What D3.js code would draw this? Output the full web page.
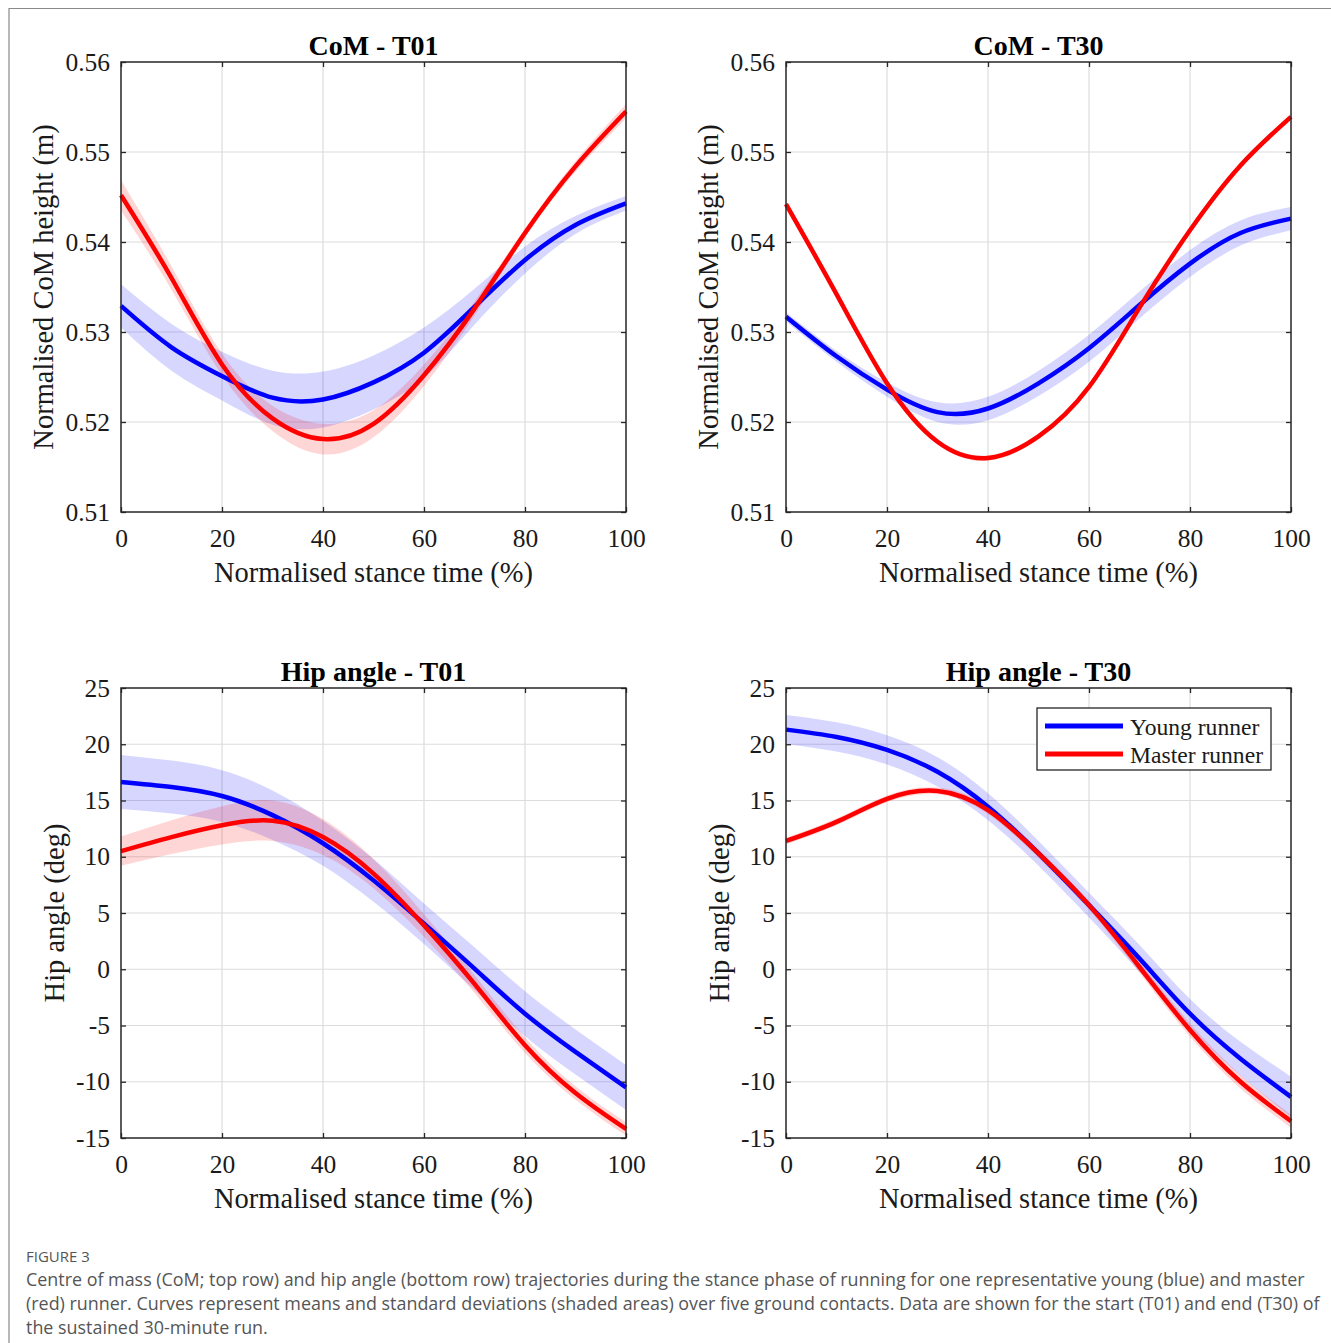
<!DOCTYPE html>
<html>
<head>
<meta charset="utf-8">
<script src="https://cdn.jsdelivr.net/npm/d3@7"></script>
<style>
  body { margin: 0; background: #fff; }
  svg { display: block; }
</style>
</head>
<body>
<svg id="fig" width="1331" height="1343"></svg>
<script>
// stance time samples (%)
const stance = [0, 10, 20, 30, 40, 50, 60, 70, 80, 90, 100];

// CoM height (m), T01
const comT01Young    = [0.5329, 0.5283, 0.5251, 0.5227, 0.5225, 0.5244, 0.5277, 0.5328, 0.5380, 0.5419, 0.5443];
const comT01YoungSd  = [0.0024, 0.0026, 0.0027, 0.0030, 0.0031, 0.0030, 0.0028, 0.0020, 0.0015, 0.0010, 0.0008];
const comT01Master   = [0.5452, 0.5360, 0.5264, 0.5204, 0.5181, 0.5198, 0.5252, 0.5326, 0.5410, 0.5484, 0.5545];
const comT01MasterSd = [0.0017, 0.0013, 0.0012, 0.0014, 0.0017, 0.0015, 0.0012, 0.0008, 0.0005, 0.0006, 0.0008];

// CoM height (m), T30
const comT30Young    = [0.5317, 0.5273, 0.5236, 0.5211, 0.5215, 0.5243, 0.5282, 0.5330, 0.5376, 0.5410, 0.5426];
const comT30YoungSd  = [0.0005, 0.0006, 0.0008, 0.0011, 0.0013, 0.0014, 0.0015, 0.0015, 0.0015, 0.0014, 0.0013];
const comT30Master   = [0.5442, 0.5342, 0.5243, 0.5178, 0.5160, 0.5184, 0.5239, 0.5327, 0.5413, 0.5485, 0.5539];
const comT30MasterSd = [0.0003, 0.0003, 0.0003, 0.0003, 0.0003, 0.0003, 0.0003, 0.0003, 0.0003, 0.0003, 0.0003];

// hip angle (deg), T01
const hipT01Young    = [16.65, 16.2, 15.4, 13.7, 11.2, 7.9, 4.05, 0.05, -3.95, -7.35, -10.5];
const hipT01YoungSd  = [2.4, 2.35, 2.3, 2.2, 2.0, 1.9, 1.8, 1.9, 2.0, 2.0, 2.0];
const hipT01Master   = [10.5, 11.75, 12.8, 13.2, 11.75, 8.5, 3.9, -1.3, -6.75, -11.0, -14.2];
const hipT01MasterSd = [1.3, 1.5, 1.7, 1.8, 1.6, 1.3, 1.0, 0.8, 0.7, 0.6, 0.6];

// hip angle (deg), T30
const hipT30Young    = [21.3, 20.65, 19.5, 17.55, 14.45, 10.3, 5.7, 0.95, -3.95, -7.95, -11.35];
const hipT30YoungSd  = [1.3, 1.3, 1.3, 1.3, 1.2, 1.1, 1.1, 1.2, 1.3, 1.5, 1.8];
const hipT30Master   = [11.4, 13.1, 15.15, 15.85, 14.15, 10.3, 5.7, 0.2, -5.4, -10.0, -13.5];
const hipT30MasterSd = [0.3, 0.3, 0.3, 0.3, 0.35, 0.4, 0.4, 0.5, 0.6, 0.6, 0.6];

const xTicks = [0, 20, 40, 60, 80, 100];
const comTicks = [0.51, 0.52, 0.53, 0.54, 0.55, 0.56];
const hipTicks = [-15, -10, -5, 0, 5, 10, 15, 20, 25];

const seriesNames = ['Young runner', 'Master runner'];
const captionLines = [
  'Centre of mass (CoM; top row) and hip angle (bottom row) trajectories during the stance phase of running for one representative young (blue) and master',
  '(red) runner. Curves represent means and standard deviations (shaded areas) over five ground contacts. Data are shown for the start (T01) and end (T30) of',
  'the sustained 30-minute run.'
];

const serif = '"Liberation Serif", "Times New Roman", serif';
const sans = '"Open Sans", "Noto Sans", sans-serif';
const axisColor = '#262626';

let panels = [
  { title: 'CoM - T01', left: 121, top: 62, yLabel: 'Normalised CoM height (m)', yDomain: [0.51, 0.56], yTicks: comTicks, fmt: d3.format('.2f'), labelX: 53,
    young: comT01Young, youngSd: comT01YoungSd, master: comT01Master, masterSd: comT01MasterSd },
  { title: 'CoM - T30', left: 786, top: 62, yLabel: 'Normalised CoM height (m)', yDomain: [0.51, 0.56], yTicks: comTicks, fmt: d3.format('.2f'), labelX: 718,
    young: comT30Young, youngSd: comT30YoungSd, master: comT30Master, masterSd: comT30MasterSd },
  { title: 'Hip angle - T01', left: 121, top: 688, yLabel: 'Hip angle (deg)', yDomain: [-15, 25], yTicks: hipTicks, fmt: d => String(d), labelX: 64,
    young: hipT01Young, youngSd: hipT01YoungSd, master: hipT01Master, masterSd: hipT01MasterSd },
  { title: 'Hip angle - T30', left: 786, top: 688, yLabel: 'Hip angle (deg)', yDomain: [-15, 25], yTicks: hipTicks, fmt: d => String(d), labelX: 729,
    young: hipT30Young, youngSd: hipT30YoungSd, master: hipT30Master, masterSd: hipT30MasterSd, legend: true }
];

const W = 505, H = 450;
const svg = d3.select('#fig');

// outer figure frame
svg.append('path')
  .attr('d', 'M9,1343 V8.5 H1331')
  .attr('fill', 'none')
  .attr('stroke', '#8a8a8a')
  .attr('stroke-width', 1.2);

let drawPanel = function (p) {
  let x = d3.scaleLinear().domain([0, 100]).range([0, W]),
      y = d3.scaleLinear().domain(p.yDomain).range([H, 0]);

  let g = svg.append('g').attr('transform', `translate(${p.left},${p.top})`);

  // grid
  g.append('g').selectAll('line').data(xTicks.slice(1, -1)).join('line')
    .attr('x1', d => x(d)).attr('x2', d => x(d))
    .attr('y1', 0).attr('y2', H)
    .attr('stroke', '#dcdcdc').attr('stroke-width', 1.2);
  g.append('g').selectAll('line').data(p.yTicks.slice(1, -1)).join('line')
    .attr('x1', 0).attr('x2', W)
    .attr('y1', d => y(d)).attr('y2', d => y(d))
    .attr('stroke', '#dcdcdc').attr('stroke-width', 1.2);

  let curve = d3.curveNatural;

  let band = function (mean, sd, color) {
    let area = d3.area()
      .x((d, i) => x(stance[i]))
      .y0((d, i) => y(mean[i] - sd[i]))
      .y1((d, i) => y(mean[i] + sd[i]))
      .curve(curve);
    g.append('path').datum(mean)
      .attr('d', area)
      .attr('fill', color)
      .attr('fill-opacity', 0.16);
  }

  let meanLine = function (mean, color) {
    let line = d3.line()
      .x((d, i) => x(stance[i]))
      .y(d => y(d))
      .curve(curve);
    g.append('path').datum(mean)
      .attr('d', line)
      .attr('fill', 'none')
      .attr('stroke', color)
      .attr('stroke-width', 4.5);
  }

  band(p.young, p.youngSd, '#0000ff');
  band(p.master, p.masterSd, '#ff0000');
  meanLine(p.young, '#0000ff');
  meanLine(p.master, '#ff0000');

  // axes, MATLAB style: box, inward ticks on all sides
  let tickStyle = function (sel) {
    sel.attr('font-family', serif).attr('font-size', 25.5);
    sel.select('.domain').remove();
    sel.selectAll('.tick line').attr('stroke', axisColor).attr('stroke-width', 1.3);
    sel.selectAll('.tick text')
      .attr('fill', '#1a1a1a')
      .style('font-family', serif)
      .style('font-size', '25.5px');
  }

  g.append('g').attr('transform', `translate(0,${H})`)
    .call(d3.axisBottom(x).tickValues(xTicks).tickSizeInner(-5).tickPadding(17))
    .call(tickStyle);
  g.append('g')
    .call(d3.axisTop(x).tickValues(xTicks).tickSizeInner(-5).tickFormat(''))
    .call(tickStyle);
  g.append('g')
    .call(d3.axisLeft(y).tickValues(p.yTicks).tickSizeInner(-5).tickPadding(11).tickFormat(p.fmt))
    .call(tickStyle);
  g.append('g').attr('transform', `translate(${W},0)`)
    .call(d3.axisRight(y).tickValues(p.yTicks).tickSizeInner(-5).tickFormat(''))
    .call(tickStyle);

  g.append('rect')
    .attr('width', W).attr('height', H)
    .attr('fill', 'none')
    .attr('stroke', axisColor)
    .attr('stroke-width', 1.5);

  // texts
  g.append('text')
    .attr('x', W / 2).attr('y', -7)
    .attr('text-anchor', 'middle')
    .style('font-family', serif).style('font-size', '28px').style('font-weight', 'bold')
    .attr('fill', '#000')
    .text(p.title);

  g.append('text')
    .attr('x', W / 2).attr('y', H + 70)
    .attr('text-anchor', 'middle')
    .style('font-family', serif).style('font-size', '28.5px')
    .attr('fill', '#1a1a1a')
    .text('Normalised stance time (%)');

  svg.append('text')
    .attr('transform', `translate(${p.labelX},${p.top + H / 2}) rotate(-90)`)
    .attr('text-anchor', 'middle')
    .style('font-family', serif).style('font-size', '28.5px')
    .attr('fill', '#1a1a1a')
    .text(p.yLabel);

  if (p.legend) {
    let lg = svg.append('g').attr('transform', 'translate(1037,708)');
    lg.append('rect')
      .attr('width', 234).attr('height', 62)
      .attr('fill', '#fff')
      .attr('stroke', axisColor).attr('stroke-width', 1.3);
    let colors = ['#0000ff', '#ff0000'];
    seriesNames.forEach(function (name, i) {
      lg.append('line')
        .attr('x1', 8).attr('x2', 86)
        .attr('y1', 18 + i * 28).attr('y2', 18 + i * 28)
        .attr('stroke', colors[i]).attr('stroke-width', 5);
      lg.append('text')
        .attr('x', 93).attr('y', 27 + i * 28)
        .style('font-family', serif).style('font-size', '23.6px')
        .attr('fill', '#1a1a1a')
        .text(name);
    });
  }
}

panels.forEach(drawPanel);

// caption
svg.append('text')
  .attr('x', 26).attr('y', 1262)
  .style('font-family', sans).style('font-size', '15px')
  .attr('fill', '#555')
  .text('FIGURE 3');

svg.append('g').selectAll('text').data(captionLines).join('text')
  .attr('x', 26)
  .attr('y', (d, i) => 1286 + i * 24)
  .style('font-family', sans).style('font-size', '17.9px')
  .attr('fill', '#555')
  .text(d => d);
</script>
</body>
</html>
